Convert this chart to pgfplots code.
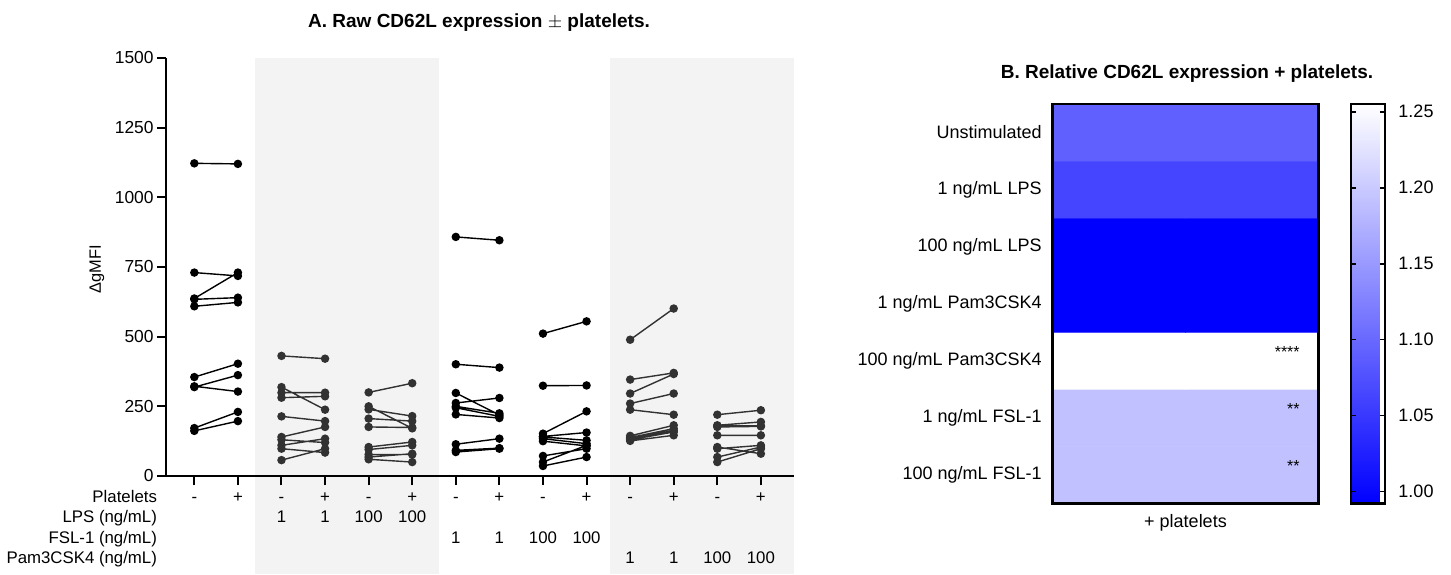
\documentclass[border=0pt]{standalone}
\usepackage{fontspec}
\setmainfont{Liberation Sans}
\usepackage{pgfplots}
\pgfplotsset{compat=1.18}
\usepackage{pgfplotstable}
\definecolor{band}{RGB}{243,243,243}
\definecolor{dk}{RGB}{50,50,50}
\newcommand{\lab}{\fontsize{8.4}{9}\selectfont}
\newcommand{\labB}{\fontsize{9}{10}\selectfont}

\pgfplotstableread{
x y
0 1122
1 1120
nan nan
0 730
1 718
nan nan
0 637
1 730
nan nan
0 634
1 640
nan nan
0 609
1 623
nan nan
0 355
1 403
nan nan
0 319
1 362
nan nan
0 322
1 303
nan nan
0 172
1 230
nan nan
0 162
1 197
}\gA
\pgfplotstableread{
x y
2 431
3 421
nan nan
2 319
3 238
nan nan
2 299
3 299
nan nan
2 281
3 286
nan nan
2 214
3 197
nan nan
2 140
3 176
nan nan
2 130
3 120
nan nan
2 110
3 134
nan nan
2 98
3 84
nan nan
2 57
3 98
}\gB
\pgfplotstableread{
x y
4 300
5 333
nan nan
4 250
5 171
nan nan
4 239
5 215
nan nan
4 206
5 197
nan nan
4 176
5 174
nan nan
4 104
5 122
nan nan
4 95
5 110
nan nan
4 77
5 77
nan nan
4 68
5 80
nan nan
4 60
5 50
}\gC
\pgfplotstableread{
x y
6 858
7 846
nan nan
6 401
7 389
nan nan
6 298
7 219
nan nan
6 262
7 280
nan nan
6 250
7 225
nan nan
6 245
7 214
nan nan
6 221
7 208
nan nan
6 114
7 134
nan nan
6 92
7 100
nan nan
6 86
7 98
}\gD
\pgfplotstableread{
x y
8 511
9 555
nan nan
8 324
9 325
nan nan
8 152
9 232
nan nan
8 142
9 156
nan nan
8 134
9 116
nan nan
8 125
9 108
nan nan
8 140
9 128
nan nan
8 72
9 98
nan nan
8 50
9 110
nan nan
8 36
9 68
}\gE
\pgfplotstableread{
x y
10 489
11 601
nan nan
10 346
11 370
nan nan
10 296
11 366
nan nan
10 260
11 296
nan nan
10 238
11 220
nan nan
10 144
11 182
nan nan
10 138
11 170
nan nan
10 135
11 163
nan nan
10 126
11 146
nan nan
10 130
11 158
}\gF
\pgfplotstableread{
x y
12 220
13 236
nan nan
12 182
13 194
nan nan
12 176
13 178
nan nan
12 146
13 146
nan nan
12 104
13 80
nan nan
12 98
13 110
nan nan
12 68
13 104
nan nan
12 50
13 98
nan nan
12 180
13 180
}\gG
\pgfplotstableread{
x y c
0 0 1.19
1 0 1.19
0 1 1.19
1 1 1.19
0 2 1.26
1 2 1.26
0 3 0.99
1 3 0.99
0 4 0.99
1 4 0.99
0 5 1.063
1 5 1.063
0 6 1.091
1 6 1.091
}\heat

\begin{document}
\begin{tikzpicture}
\useasboundingbox (0,0) rectangle (725.5pt,287pt);
\begin{axis}[
  at={(83pt,49pt)}, anchor=south west, scale only axis,
  width=314pt, height=209pt,
  xmin=-0.65, xmax=13.76, ymin=0, ymax=1500,
  axis lines*=left, axis line style={line width=1pt},
  xtick={0,...,13}, xticklabels={},
  ytick={0,250,...,1500},
  tick align=outside, major tick length=4.5pt,
  tick style={line width=1pt, black},
  yticklabel style={font=\fontsize{8.7}{10}\selectfont, inner sep=0pt, xshift=-1.5pt},
  /pgf/number format/1000 sep={}, /pgf/number format/assume math mode=true,
  clip=false, axis on top, unbounded coords=jump,
  every axis plot/.append style={line width=0.7pt, mark=*, mark size=1.75pt},
]
\fill[band] (axis cs:1.40,-353) rectangle (axis cs:5.61,1500);
\fill[band] (axis cs:9.54,-353) rectangle (axis cs:13.76,1500);
\addplot[black, mark options={fill=black}] table {\gA};
\addplot[dk, mark options={fill=dk}] table {\gB};
\addplot[dk, mark options={fill=dk}] table {\gC};
\addplot[black, mark options={fill=black}] table {\gD};
\addplot[black, mark options={fill=black}] table {\gE};
\addplot[dk, mark options={fill=dk}] table {\gF};
\addplot[dk, mark options={fill=dk}] table {\gG};
% row labels
\node[anchor=base east, font=\lab] at (axis cs:-0.65,0) [xshift=-1pt, yshift=-13.15pt] {Platelets};
\node[anchor=base east, font=\lab] at (axis cs:-0.65,0) [xshift=-1pt, yshift=-23.4pt] {LPS (ng/mL)};
\node[anchor=base east, font=\lab] at (axis cs:-0.65,0) [xshift=-1pt, yshift=-33.65pt] {FSL-1 (ng/mL)};
\node[anchor=base east, font=\lab] at (axis cs:-0.65,0) [xshift=-1pt, yshift=-43.65pt] {Pam3CSK4 (ng/mL)};
\pgfplotsinvokeforeach{0,2,4,6,8,10,12}{
  \node[anchor=base, font=\lab] at (axis cs:#1,0) [yshift=-13.15pt] {-};
}
\pgfplotsinvokeforeach{1,3,5,7,9,11,13}{
  \node[anchor=base, font=\lab] at (axis cs:#1,0) [yshift=-13.15pt] {+};
}
\node[anchor=base, font=\lab] at (axis cs:2,0) [yshift=-23.4pt] {1};
\node[anchor=base, font=\lab] at (axis cs:3,0) [yshift=-23.4pt] {1};
\node[anchor=base, font=\lab] at (axis cs:4,0) [yshift=-23.4pt] {100};
\node[anchor=base, font=\lab] at (axis cs:5,0) [yshift=-23.4pt] {100};
\node[anchor=base, font=\lab] at (axis cs:6,0) [yshift=-33.65pt] {1};
\node[anchor=base, font=\lab] at (axis cs:7,0) [yshift=-33.65pt] {1};
\node[anchor=base, font=\lab] at (axis cs:8,0) [yshift=-33.65pt] {100};
\node[anchor=base, font=\lab] at (axis cs:9,0) [yshift=-33.65pt] {100};
\node[anchor=base, font=\lab] at (axis cs:10,0) [yshift=-43.65pt] {1};
\node[anchor=base, font=\lab] at (axis cs:11,0) [yshift=-43.65pt] {1};
\node[anchor=base, font=\lab] at (axis cs:12,0) [yshift=-43.65pt] {100};
\node[anchor=base, font=\lab] at (axis cs:13,0) [yshift=-43.65pt] {100};
\end{axis}

\node[anchor=base, font=\fontsize{9.5}{11}\selectfont\bfseries] at (239.5pt,273pt) {A. Raw CD62L expression $\pm$ platelets.};
\node[rotate=90, anchor=center, font=\fontsize{8.2}{9}\selectfont] at (48.5pt,152.5pt) {ΔgMFI};
\node[anchor=base, font=\fontsize{9.5}{11}\selectfont\bfseries] at (593.5pt,247.5pt) {B. Relative CD62L expression + platelets.};

\begin{axis}[
  at={(526.35pt,35.35pt)}, anchor=south west, scale only axis,
  width=132.8pt, height=199.65pt,
  xmin=-0.5, xmax=1.5, ymin=-0.5, ymax=6.5,
  xtick=\empty, ytick={0,...,6},
  yticklabels={100 ng/mL FSL-1, 1 ng/mL FSL-1, 100 ng/mL Pam3CSK4, 1 ng/mL Pam3CSK4, 100 ng/mL LPS, 1 ng/mL LPS, Unstimulated},
  major tick length=0pt,
  yticklabel style={font=\labB, inner ysep=0pt, inner xsep=5.35pt},
  axis line style={line width=1.3pt}, axis on top, clip=false,
  colormap={bw}{rgb255=(0,0,255) rgb255=(255,255,255)},
  point meta min=0.9923, point meta max=1.2551,
  colorbar,
  colorbar style={
    at={(parent axis.north east)}, anchor=north west, xshift=7.85pt,
    scale only axis, width=17pt, height=199.65pt,
    xtick=\empty,
    ytick={1,1.05,1.1,1.15,1.2,1.25},
    yticklabels={1.00,1.05,1.10,1.15,1.20,1.25},
    ytick pos=both, yticklabel pos=right,
    tick align=inside, major tick length=2.5pt,
    tick style={line width=0.8pt, black},
    axis line style={line width=1.2pt},
    yticklabel style={font=\labB, inner ysep=0pt, inner xsep=6pt, xshift=0.5pt},
  },
]
\addplot[matrix plot*, mesh/cols=2, point meta=explicit] table[meta=c] {\heat};
\node[anchor=base east, font=\fontsize{8}{8}\selectfont] at (axis cs:1.413,2.055) {****};
\node[anchor=base east, font=\fontsize{8}{8}\selectfont] at (axis cs:1.413,1.055) {**};
\node[anchor=base east, font=\fontsize{8}{8}\selectfont] at (axis cs:1.413,0.055) {**};
\node[anchor=base, font=\labB] at (axis cs:0.5,-0.5) [yshift=-11.85pt] {+ platelets};
\end{axis}
\end{tikzpicture}
\end{document}
